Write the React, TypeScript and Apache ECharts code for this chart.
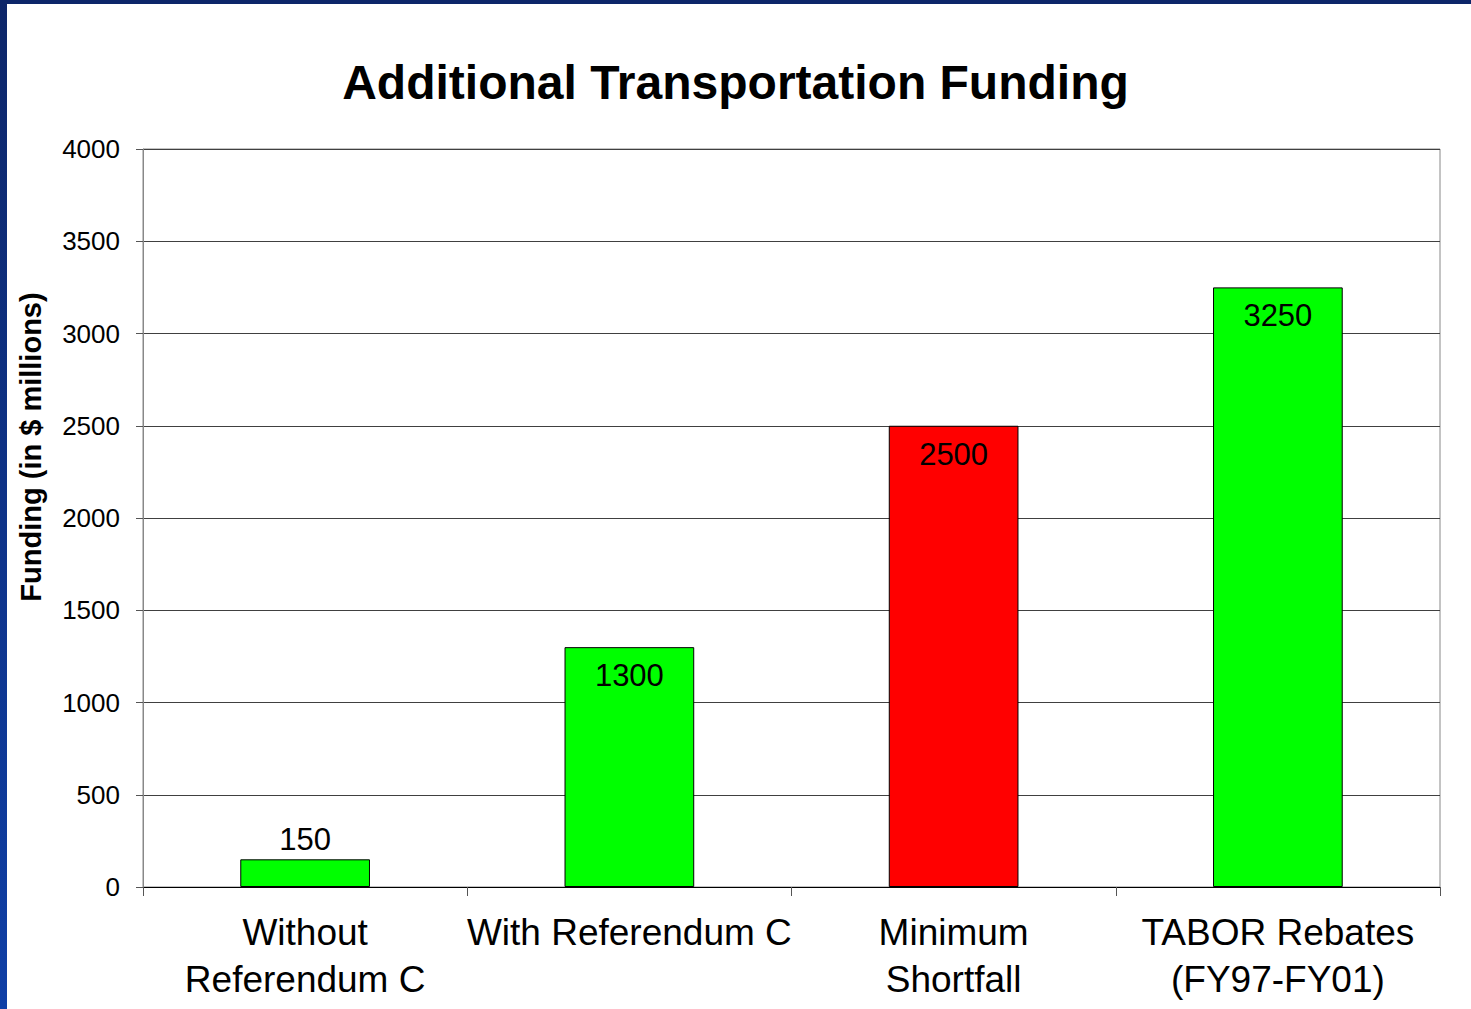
import React, { useEffect, useRef } from "react";
import * as echarts from "echarts";

const categories = ["Without\nReferendum C", "With Referendum C", "Minimum\nShortfall", "TABOR Rebates\n(FY97-FY01)"];
const values = [150, 1300, 2500, 3250];
const barColors = ["#00ff00", "#00ff00", "#ff0000", "#00ff00"];
const labelPositions = ["top", "insideTop", "insideTop", "insideTop"];
const yTicks = { min: 0, max: 4000, interval: 500 };

const FONT = "'Liberation Sans', Arial, sans-serif";

export default function App() {
  const ref = useRef<HTMLDivElement>(null);
  useEffect(() => {
    const chart = echarts.init(ref.current!, null, { renderer: "svg" });
    chart.setOption({
      animation: false,
      backgroundColor: "#ffffff",
      textStyle: { fontFamily: FONT },
      title: {
        text: "Additional Transportation Funding",
        left: "center",
        top: 53,
        textStyle: { fontFamily: FONT, fontSize: 48, fontWeight: "bold", color: "#000000" },
      },
      graphic: [
        {
          type: "rect",
          shape: { x: 0, y: 0, width: 7, height: 1009 },
          style: {
            fill: new echarts.graphic.LinearGradient(0, 0, 0, 1, [
              { offset: 0, color: "#0d2669" },
              { offset: 1, color: "#0f3fa6" },
            ]),
          },
          z: 100,
        },
        {
          type: "rect",
          shape: { x: 0, y: 0, width: 1471, height: 4 },
          style: { fill: "#0d2669" },
          z: 100,
        },
        {
          type: "text",
          x: 31,
          y: 447,
          rotation: Math.PI / 2,
          style: {
            text: "Funding (in $ millions)",
            fontFamily: FONT,
            fontSize: 29,
            fontWeight: "bold",
            fill: "#000000",
            align: "center",
            verticalAlign: "middle",
          },
        },
      ],
      grid: {
        left: 143,
        right: 31,
        top: 149,
        bottom: 122,
        show: true,
        borderColor: "#888888",
        borderWidth: 1,
      },
      xAxis: {
        type: "category",
        data: categories,
        axisLine: { lineStyle: { color: "#000000", width: 1 } },
        axisTick: { show: true, length: 9, alignWithLabel: false, lineStyle: { color: "#555555" } },
        axisLabel: {
          fontFamily: FONT,
          fontSize: 37,
          color: "#000000",
          lineHeight: 47,
          margin: 22,
          interval: 0,
        },
        splitLine: { show: false },
      },
      yAxis: {
        type: "value",
        min: yTicks.min,
        max: yTicks.max,
        interval: yTicks.interval,
        axisLine: { show: true, lineStyle: { color: "#888888", width: 1 } },
        axisTick: { show: true, length: 7, lineStyle: { color: "#555555" } },
        axisLabel: {
          fontFamily: FONT,
          fontSize: 26,
          color: "#000000",
          margin: 23,
          formatter: (v: number) => String(v),
        },
        splitLine: { show: true, lineStyle: { color: "#404040", width: 1 } },
      },
      series: [
        {
          type: "bar",
          barWidth: "40%",
          data: values.map((v, i) => ({
            value: v,
            itemStyle: { color: barColors[i], borderColor: "#000000", borderWidth: 1 },
            label: {
              show: true,
              position: labelPositions[i],
              distance: labelPositions[i] === "top" ? 4 : 13,
              fontFamily: FONT,
              fontSize: 31,
              color: "#000000",
            },
          })),
        },
      ],
    });
    return () => chart.dispose();
  }, []);
  return (
    <div style={{ position: "absolute", left: 0, top: 0, width: 1471, height: 1009 }}>
      <div ref={ref} style={{ width: 1471, height: 1009 }} />
    </div>
  );
}
